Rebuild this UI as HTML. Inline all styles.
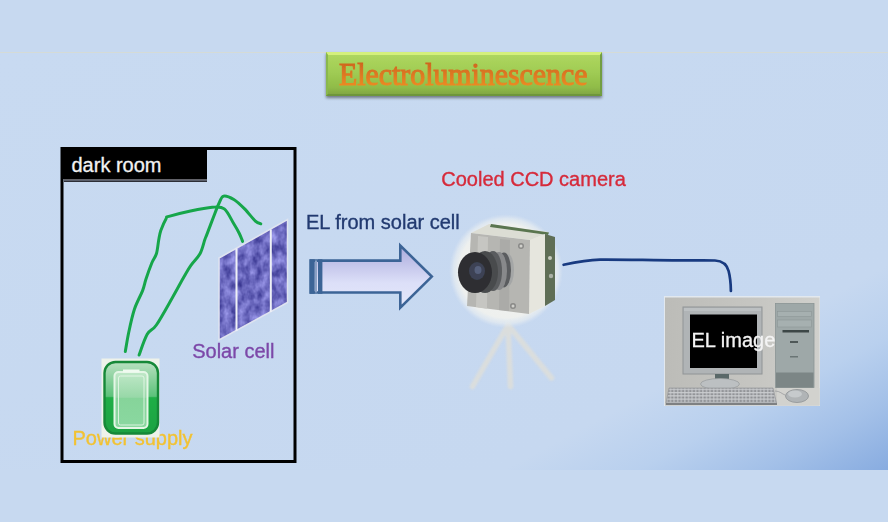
<!DOCTYPE html>
<html><head><meta charset="utf-8">
<style>
html,body{margin:0;padding:0;width:888px;height:522px;overflow:hidden;background:#c7d9f0;}
#slide{position:absolute;left:0;top:53px;width:888px;height:417px;
background:linear-gradient(152deg,#c8daf1 0%,#c6d8f0 77%,#b9d0ee 85%,#a3c0e8 92.5%,#88ace0 100%);}
#topline{position:absolute;left:0;top:52px;width:888px;height:1px;background:#d5dbd6;}
svg{position:absolute;left:0;top:0;filter:blur(0.35px);}
text{font-family:"Liberation Sans",sans-serif;}
</style></head>
<body>
<div id="slide"></div>
<div id="topline"></div>
<svg width="888" height="522" viewBox="0 0 888 522">
<defs>
  <linearGradient id="gbox" x1="0" y1="0" x2="0" y2="1">
    <stop offset="0" stop-color="#b0d860"/>
    <stop offset="0.45" stop-color="#a0cc54"/>
    <stop offset="0.8" stop-color="#90bc48"/>
    <stop offset="1" stop-color="#7ea242"/>
  </linearGradient>
  <linearGradient id="gtitle" x1="0" y1="0" x2="0" y2="1">
    <stop offset="0" stop-color="#c85e1e"/>
    <stop offset="1" stop-color="#f49424"/>
  </linearGradient>
  <linearGradient id="garrow" x1="0" y1="0" x2="0" y2="1">
    <stop offset="0" stop-color="#aaaadc"/>
    <stop offset="0.6" stop-color="#dcdff8"/>
    <stop offset="1" stop-color="#e4e8fa"/>
  </linearGradient>
  <radialGradient id="glow" cx="0.5" cy="0.5" r="0.5">
    <stop offset="0" stop-color="#f4f4f2" stop-opacity="1"/>
    <stop offset="0.82" stop-color="#eef0ee" stop-opacity="1"/>
    <stop offset="0.92" stop-color="#e6ecf0" stop-opacity="0.7"/>
    <stop offset="1" stop-color="#dde6f2" stop-opacity="0"/>
  </radialGradient>
  <linearGradient id="gbat" x1="0" y1="0" x2="0" y2="1">
    <stop offset="0" stop-color="#b8e0c0"/>
    <stop offset="0.48" stop-color="#5cc27a"/>
    <stop offset="0.50" stop-color="#1fae46"/>
    <stop offset="1" stop-color="#1ca242"/>
  </linearGradient>
  <linearGradient id="gbatin" x1="0" y1="0" x2="0" y2="1">
    <stop offset="0" stop-color="#c0e8c8"/>
    <stop offset="0.45" stop-color="#98d8a8"/>
    <stop offset="0.47" stop-color="#86d49a"/>
    <stop offset="1" stop-color="#8ad8a0"/>
  </linearGradient>
  <linearGradient id="gcomp" x1="0" y1="0" x2="1" y2="0">
    <stop offset="0" stop-color="#bcbcb8"/>
    <stop offset="0.6" stop-color="#c6c6c2"/>
    <stop offset="1" stop-color="#d0d0cc"/>
  </linearGradient>
  <pattern id="keys" x="667" y="389.5" width="3.6" height="3.3" patternUnits="userSpaceOnUse">
    <rect x="0.4" y="0.4" width="2.6" height="2" fill="#8e9094"/>
  </pattern>
  <filter id="blur1" x="-20%" y="-20%" width="140%" height="140%"><feGaussianBlur stdDeviation="0.7"/></filter>
  <filter id="blur12" x="-20%" y="-20%" width="140%" height="140%"><feGaussianBlur stdDeviation="1.1"/></filter>
  <filter id="blur05"><feGaussianBlur stdDeviation="0.45"/></filter>
  <filter id="shadow" x="-10%" y="-30%" width="120%" height="160%">
    <feGaussianBlur in="SourceAlpha" stdDeviation="1.5"/>
    <feOffset dx="0" dy="2"/>
    <feComponentTransfer><feFuncA type="linear" slope="0.45"/></feComponentTransfer>
    <feMerge><feMergeNode/><feMergeNode in="SourceGraphic"/></feMerge>
  </filter>
  <filter id="tex" x="0" y="0" width="100%" height="100%" color-interpolation-filters="sRGB">
    <feTurbulence type="fractalNoise" baseFrequency="0.13 0.09" numOctaves="3" seed="5" result="n"/>
    <feColorMatrix in="n" type="matrix" values="0.55 0 0 0 0.15  0.55 0 0 0 0.14  0.5 0 0 0 0.5  0 0 0 0 1" result="c"/>
    <feComposite in="c" in2="SourceGraphic" operator="in"/>
  </filter>
</defs>

<!-- title box -->
<g filter="url(#shadow)">
  <rect x="326" y="52" width="276" height="44" fill="url(#gbox)"/>
</g>
<polygon points="326,52 602,52 600,55 328,55" fill="#d4f07c"/>
<polygon points="326,52 328,55 328,94 326,96" fill="#8ab84c"/>
<polygon points="602,52 600,55 600,94 602,96" fill="#729e42"/>
<polygon points="326,96 328,94 600,94 602,96" fill="#6e963c"/>
<text x="339" y="85" font-weight="normal" font-size="30.5" fill="url(#gtitle)" stroke="url(#gtitle)" stroke-width="1.1" textLength="248.5" lengthAdjust="spacingAndGlyphs" style="font-family:'Liberation Serif',serif" filter="url(#blur05)">Electroluminescence</text>

<!-- dark room box -->
<rect x="62" y="148.5" width="233" height="313" fill="none" stroke="#000" stroke-width="3"/>
<rect x="61" y="147" width="146" height="32" fill="#000"/>
<rect x="64" y="179" width="143" height="1.4" fill="#626268"/>
<rect x="64" y="180.4" width="143" height="1.6" fill="#2c2e36"/>
<text x="71.5" y="171.5" font-size="20" fill="#f2f2f2" stroke="#f2f2f2" stroke-width="0.3">dark room</text>

<!-- solar cell -->
<polygon points="219,258 287.5,219.5 287.5,302.5 219,340" fill="#5c5ea8" filter="url(#tex)"/>
<polygon points="219,258 287.5,219.5 287.5,302.5 219,340" fill="none" stroke="#dfe4f0" stroke-width="1.5"/>
<line x1="236.5" y1="248.5" x2="236.5" y2="331" stroke="#eef0f6" stroke-width="2"/>
<line x1="270.8" y1="229.5" x2="270.8" y2="312" stroke="#eef0f6" stroke-width="2"/>

<!-- wires -->
<g fill="none" stroke="#16a64a" stroke-width="3" stroke-linecap="round" stroke-linejoin="round">
<path d="M125.3,351.5 C125.9,348.2 127.3,339.1 128.8,332.0 C130.3,324.9 132.2,315.9 134.5,309.0 C136.8,302.1 140.7,295.6 142.6,290.6 C144.5,285.6 144.5,283.6 146.0,279.0 C147.5,274.4 150.1,267.2 151.8,263.0 C153.5,258.8 155.2,257.6 156.4,253.8 C157.6,250.0 158.0,243.9 158.7,240.0 C159.4,236.1 159.6,234.1 160.8,230.5 C162.1,226.9 164.8,220.8 166.2,218.4 C167.5,216.1 164.8,217.6 168.9,216.4 C173.0,215.2 183.3,212.5 190.5,211.0 C197.7,209.5 206.6,207.7 212.2,207.3 C217.8,207.0 220.7,206.2 224.3,208.9 C227.9,211.7 231.3,219.8 233.8,223.8 C236.3,227.9 237.7,230.3 239.2,233.2 C240.7,236.1 242.0,240.0 242.6,241.4"/>
<path d="M139.1,355.0 C140.4,351.6 144.3,339.3 147.2,334.3 C150.1,329.3 152.2,331.1 156.4,325.0 C160.6,318.9 167.9,305.5 172.5,297.5 C177.1,289.5 180.9,282.2 184.0,276.8 C187.1,271.4 188.2,269.1 190.9,265.3 C193.6,261.5 197.7,258.0 200.0,253.8 C202.3,249.6 203.6,243.2 204.7,240.0 C205.8,236.8 205.3,238.4 206.8,234.6 C208.3,230.8 211.5,222.2 213.5,217.0 C215.5,211.8 217.2,207.0 218.9,203.5 C220.6,200.0 221.1,196.8 223.6,196.1 C226.1,195.4 230.3,197.4 233.8,199.5 C237.3,201.6 241.0,205.3 244.6,208.9 C248.2,212.5 252.7,218.6 255.4,221.1 C258.1,223.6 259.9,223.4 260.8,223.8"/>
</g>

<text x="72.5" y="445.3" font-size="20" fill="#f2c232" stroke="#f2c232" stroke-width="0.35">Power supply</text>

<!-- battery -->
<rect x="101.5" y="358.5" width="58" height="79" fill="#eef2ea"/>
<rect x="104.5" y="362" width="53.5" height="71.5" rx="11" fill="url(#gbat)" stroke="#168838" stroke-width="2.4"/>
<rect x="114.5" y="372" width="33" height="56" rx="4" fill="url(#gbatin)" stroke="#e4f6e6" stroke-width="2"/>
<rect x="118.5" y="376" width="25.5" height="49" rx="2" fill="none" stroke="#e8f8ea" stroke-width="1" opacity="0.85"/>
<rect x="123" y="369.5" width="16.5" height="3" fill="#f0faf0"/>

<text x="192.2" y="357.6" font-size="20" fill="#7c48a8" stroke="#7c48a8" stroke-width="0.35">Solar cell</text>
<text x="306" y="229.2" font-size="20" fill="#223a70" stroke="#223a70" stroke-width="0.35">EL from solar cell</text>
<text x="441.3" y="186" font-size="20" fill="#d62a3a" stroke="#d62a3a" stroke-width="0.35">Cooled CCD camera</text>

<!-- arrow -->
<path d="M310.8,260.6 L400.3,260.6 L400.3,245.5 L431.8,276.6 L400.3,307.7 L400.3,292.5 L310.8,292.5 Z" fill="url(#garrow)" stroke="#3c6496" stroke-width="2.6" stroke-linejoin="miter"/>
<rect x="309.5" y="259.3" width="5.2" height="34.5" fill="#3c6496"/>
<rect x="315" y="260.5" width="2" height="32" fill="#8aa0c4"/>
<rect x="318" y="259.3" width="4.4" height="34.5" fill="#3c6496"/>

<!-- tripod -->
<g stroke="#e0dfd8" stroke-width="5.5" stroke-linecap="round" opacity="0.8" filter="url(#blur12)">
  <line x1="508" y1="325" x2="472.5" y2="386.5"/>
  <line x1="508" y1="325" x2="510.5" y2="386.5"/>
  <line x1="508" y1="325" x2="551.5" y2="378"/>
</g>

<!-- camera glow + camera -->
<circle cx="506" cy="271" r="57" fill="url(#glow)"/>
<g filter="url(#blur1)">
  <!-- top face -->
  <polygon points="489,224 549,232 531,240 471,233" fill="#dcddd4"/>
  <polygon points="491,224 549,232.5 548,235 490,227" fill="#5a7450"/>
  <!-- side pcb -->
  <polygon points="545,234 555,237 555,300 545,306" fill="#5e6e56"/>
  <circle cx="550" cy="258" r="2" fill="#c8ccc0"/>
  <circle cx="551" cy="276" r="2.2" fill="#aab0a4"/>
  <!-- side face -->
  <polygon points="530,240 545,234 545,306 529,314" fill="#e6e6de"/>
  <!-- front face -->
  <polygon points="471,233 530,240 529,314 467,306" fill="#b6b6b2"/>
  <polygon points="478,236 488,237 487,309 476,307" fill="#cacac6" opacity="0.8"/>
  <polygon points="500,239 510,240 509,311 499,310" fill="#a6a6a4" opacity="0.7"/>
  <circle cx="521" cy="246" r="3" fill="#8a8a88"/>
  <circle cx="521" cy="246" r="1.5" fill="#d0d0cc"/>
  <circle cx="513" cy="306" r="3" fill="#8a8a88"/>
  <circle cx="513" cy="306" r="1.5" fill="#d0d0cc"/>
  <!-- lens rings -->
  <ellipse cx="508" cy="270" rx="6" ry="16" fill="#a4a6a6"/>
  <ellipse cx="504" cy="270" rx="7" ry="17.5" fill="#5a5c5e"/>
  <ellipse cx="499" cy="271" rx="8" ry="19" fill="#88898b"/>
  <ellipse cx="493" cy="271" rx="9" ry="20" fill="#5a5c5e"/>
  <ellipse cx="485" cy="272" rx="13" ry="21" fill="#4a4c4e"/>
  <ellipse cx="475" cy="272.5" rx="17" ry="20.5" fill="#2e2f32"/>
  <ellipse cx="477" cy="271" rx="8" ry="9" fill="#3c4254"/>
  <ellipse cx="478" cy="270" rx="3.5" ry="4" fill="#56607c"/>
</g>

<!-- cable -->
<path d="M563.6,264.8 C572,263 586,260 600,259.6 C625,259.4 650,260.3 680,260.4 C700,260.4 710,260.2 715,260.5 C723,261 727,264.5 728.6,271 C730.2,277 730.8,284 730.9,291" fill="none" stroke="#183a80" stroke-width="2.7" stroke-linecap="round"/>

<!-- computer -->
<g filter="url(#blur05)">
<rect x="664" y="296" width="156" height="110" fill="#e2e8ee"/>
<rect x="665" y="297.5" width="154.5" height="108" fill="url(#gcomp)"/>
<rect x="777" y="388" width="42.5" height="17.5" fill="#d2d2ce"/>
<!-- monitor -->
<rect x="683" y="307" width="79" height="67" fill="#b0b4b6" stroke="#909496" stroke-width="1"/>
<rect x="684" y="308" width="77" height="3" fill="#bcc0c2"/>
<rect x="690" y="314.5" width="67" height="53.5" fill="#000"/>
<rect x="715" y="374" width="14" height="5" fill="#5a6868"/>
<ellipse cx="720" cy="384" rx="19.5" ry="5.5" fill="#bcc0c2" stroke="#9a9ea0" stroke-width="0.8"/>
<!-- tower -->
<rect x="775.5" y="303.5" width="38.5" height="84" fill="#9ea8a8" stroke="#8a9494" stroke-width="0.8"/>
<rect x="776" y="372.5" width="37.5" height="15" fill="#7c8686"/>
<rect x="777.5" y="311.5" width="34" height="5" fill="#a6b0b0" stroke="#8c9696" stroke-width="0.6"/>
<rect x="777.5" y="320" width="34" height="7" fill="#a6b0b0" stroke="#8c9696" stroke-width="0.6"/>
<rect x="782.5" y="330" width="26.5" height="2.5" fill="#3e4646"/>
<rect x="790" y="341" width="8" height="2" fill="#505858"/>
<rect x="790" y="356" width="8" height="1.5" fill="#6a7474"/>
<!-- keyboard -->
<path d="M669,388 L773,388 L776.5,403 L666,403 Z" fill="#cacccf" stroke="#9a9c9e" stroke-width="0.8"/>
<path d="M669,388 L773,388 L776.5,403 L666,403 Z" fill="url(#keys)"/>
<rect x="666" y="403" width="111" height="2" fill="#7e8082"/>
<!-- mouse -->
<path d="M775,391 C780,391 782,394 785,395" fill="none" stroke="#9a9c9e" stroke-width="0.8"/>
<ellipse cx="797" cy="396" rx="11.5" ry="6.5" fill="#b0b4b6" stroke="#8e9294" stroke-width="0.8"/>
<ellipse cx="795" cy="394" rx="7" ry="3.5" fill="#c6cacc"/>
</g>
<text x="691.5" y="347.2" font-size="20" fill="#f4f4f4" stroke="#f4f4f4" stroke-width="0.3">EL image</text>
</svg>
</body></html>
